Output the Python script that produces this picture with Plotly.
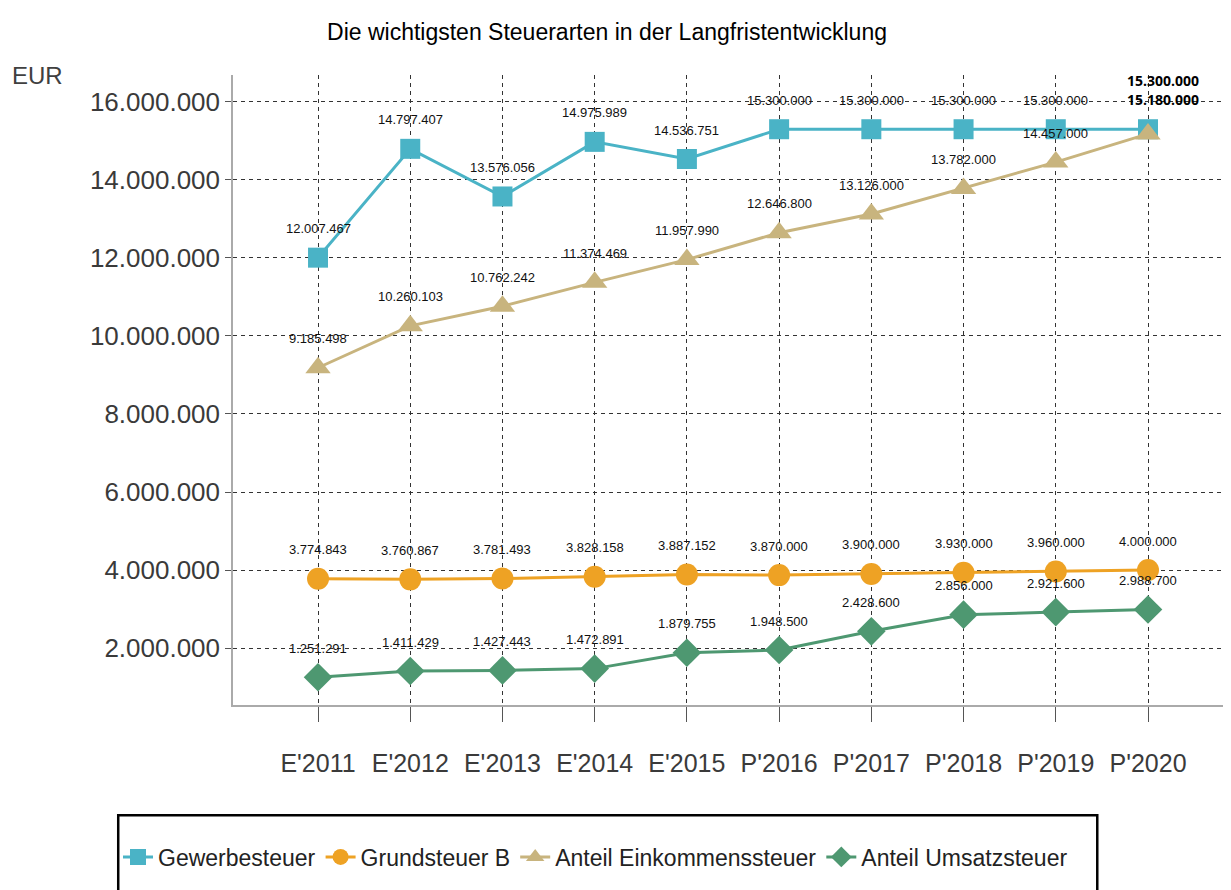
import plotly.graph_objects as go

years = ["E'2011", "E'2012", "E'2013", "E'2014", "E'2015",
         "P'2016", "P'2017", "P'2018", "P'2019", "P'2020"]
gewerbe = [12007467, 14797407, 13576056, 14975989, 14536751,
           15300000, 15300000, 15300000, 15300000, 15300000]
grund = [3774843, 3760867, 3781493, 3828158, 3887152,
         3870000, 3900000, 3930000, 3960000, 4000000]
einkommen = [9185498, 10260103, 10762242, 11374469, 11957990,
             12646800, 13126000, 13782000, 14457000, 15180000]
umsatz = [1251291, 1411429, 1427443, 1472891, 1879755,
          1948500, 2428600, 2856000, 2921600, 2988700]
ytickvals = [2000000, 4000000, 6000000, 8000000, 10000000, 12000000, 14000000, 16000000]

FONT = "Liberation Sans, Arial, sans-serif"
W, H = 1223, 882  # page body has an 8px margin


def de(v):
    return f"{v:,}".replace(",", ".")


series = [
    ("Gewerbesteuer", gewerbe, "#4AB3C6", "square", 20),
    ("Grundsteuer B", grund, "#EEA224", "circle", 22),
    ("Anteil Einkommenssteuer", einkommen, "#C8B47E", "triangle-up", 22),
    ("Anteil Umsatzsteuer", umsatz, "#4E9871", "diamond", 22),
]

fig = go.Figure()
for name, vals, color, sym, size in series:
    fig.add_trace(go.Scatter(
        x=years, y=vals, name=name, mode="lines+markers",
        line=dict(color=color, width=3),
        marker=dict(symbol=sym, size=size, color=color),
    ))

annotations = []
for name, vals, color, sym, size in series:
    for i, (x, v) in enumerate(zip(years, vals)):
        if i == len(vals) - 1 and (vals is gewerbe or vals is einkommen):
            continue
        annotations.append(dict(
            x=x, y=v, xref="x", yref="y", text=de(v), showarrow=False,
            yshift=29, font=dict(family=FONT, size=13, color="#111"),
        ))

# bold labels for the last year
annotations.append(dict(x=years[-1], y=gewerbe[-1], xref="x", yref="y", text="<b>" + de(gewerbe[-1]) + "</b>",
                        showarrow=False, xshift=15, yshift=49,
                        font=dict(family="Open Sans, sans-serif", size=14, color="#000")))
annotations.append(dict(x=years[-1], y=einkommen[-1], xref="x", yref="y", text="<b>" + de(einkommen[-1]) + "</b>",
                        showarrow=False, xshift=15, yshift=34,
                        font=dict(family="Open Sans, sans-serif", size=14, color="#000")))

annotations.append(dict(x=(2 - 225) / 998, y=1.0, xref="paper", yref="paper", text="EUR",
                        showarrow=False, xanchor="left", yanchor="middle",
                        font=dict(family=FONT, size=24, color="#404040")))

fig.update_layout(
    width=W, height=H,
    margin=dict(l=225, r=0, t=67, b=185, autoexpand=False),
    paper_bgcolor="white", plot_bgcolor="white",
    title=dict(text="Die wichtigsten Steuerarten in der Langfristentwicklung",
               x=599 / W, xanchor="center", y=1 - 24 / H, yanchor="middle",
               font=dict(family=FONT, size=23, color="#000")),
    showlegend=True,
    legend=dict(orientation="h", xref="container", yref="container",
                x=110 / W, xanchor="left", y=1 - 849 / H, yanchor="middle",
                font=dict(family=FONT, size=23, color="#222"),
                bgcolor="rgba(0,0,0,0)", borderwidth=0, itemwidth=30),
    annotations=annotations,
    shapes=[dict(type="rect", xref="paper", yref="paper", x0=-0.115, x1=0.866, y0=-0.175, y1=-0.36,
                 line=dict(color="#000", width=2.5), fillcolor="rgba(0,0,0,0)", layer="below")],
)

fig.update_xaxes(
    range=[-0.922, 9.9], type="category", tickangle=0, automargin=False,
    showgrid=True, gridcolor="#333", griddash="4px,4px", gridwidth=1.3,
    showline=True, linecolor="#aaa", linewidth=2,
    ticks="outside", ticklen=15, tickcolor="#555", tickwidth=1.3,
    ticklabelstandoff=20,
    tickfont=dict(family=FONT, size=25, color="#3a3a3a"),
)
fig.update_yaxes(
    range=[540000, 16690000], automargin=False,
    tickvals=ytickvals, ticktext=[de(v) for v in ytickvals],
    showgrid=True, gridcolor="#333", griddash="4px,4px", gridwidth=1.3,
    showline=True, linecolor="#aaa", linewidth=1.5,
    ticks="outside", ticklen=6, tickcolor="#555",
    tickfont=dict(family=FONT, size=26, color="#3a3a3a"),
    zeroline=False,
)

fig.write_html("out.html")
